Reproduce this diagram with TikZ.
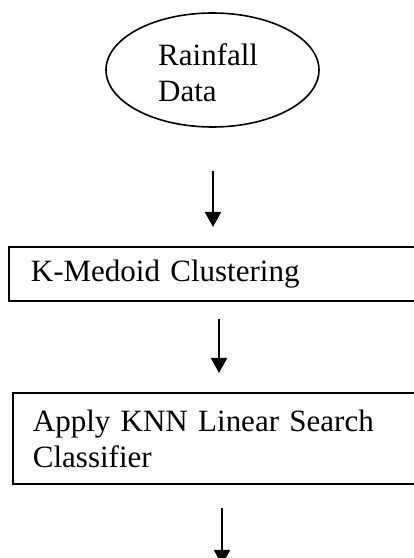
\documentclass[tikz,border=0pt]{standalone}
\usepackage{fontspec}
\setmainfont{Liberation Serif}
\usetikzlibrary{shapes.geometric,arrows.meta}
\begin{document}
\begin{tikzpicture}[x=1pt,y=1pt,>={Triangle[width=16pt,length=15pt]},
    every node/.style={font=\fontsize{31}{36}\selectfont},
    datanode/.style={draw,ellipse,line width=1.6pt,minimum width=213pt,minimum height=114pt,inner sep=0pt},
    stepbox/.style={draw,rectangle,line width=1.8pt,anchor=north west,align=left,inner ysep=0pt},
    flow/.style={line width=1.8pt,->}]
  \useasboundingbox (0,0) rectangle (414,558);
  \clip (0,0) rectangle (414,558);
  \node[datanode] (rain) at (212.5,488) {};
  \node[align=left,anchor=north west,inner sep=0pt] (raintext) at (158,515) {Rainfall\\Data};
  \node[stepbox,text width=376pt,inner xsep=22pt,minimum height=54pt] (kmed) at (8,312) {K-Medoid Clustering};
  \node[stepbox,text width=380pt,inner xsep=20pt,minimum height=91pt] (knn) at (12,166) {Apply KNN Linear Search\\Classifier};
  \coordinate (col1) at (213,0);
  \coordinate (col2) at (219,0);
  \coordinate (col3) at (222,0);
  \coordinate (out) at (222,-7);
  \draw[flow,shorten <=43pt,shorten >=19pt] (rain.south -| col1) -- (kmed.north -| col1);
  \draw[flow,shorten <=17pt,shorten >=19pt] (kmed.south -| col2) -- (knn.north -| col2);
  \draw[flow,shorten <=23pt] (knn.south -| col3) -- (out);
\end{tikzpicture}
\end{document}
